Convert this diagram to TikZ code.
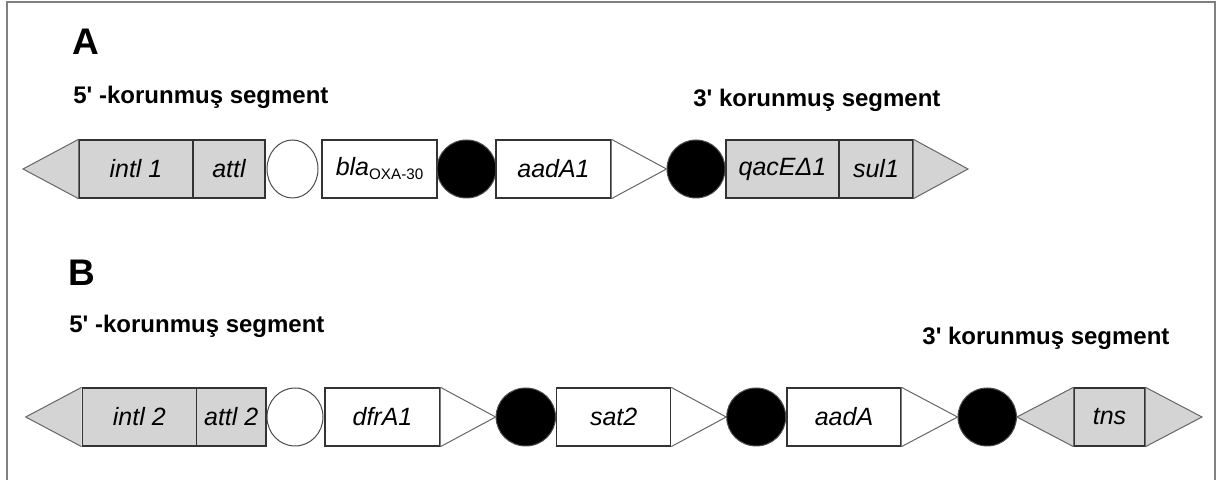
\documentclass[tikz,border=0pt]{standalone}
\usepackage{fontspec}
\setmainfont{Liberation Sans}
\usetikzlibrary{shapes.geometric}

\begin{document}
\begin{tikzpicture}[x=0.5pt,y=-0.5pt,
		frame/.style={draw=black!50,line width=0.75pt},
		headline/.style={anchor=base west,inner sep=0pt,font=\fontsize{18.5}{20}\selectfont\bfseries},
		segment/.style={anchor=base west,inner sep=0pt,font=\fontsize{12}{14}\selectfont\bfseries},
		box/.style={draw=black!80,line width=0.6pt,fill=white,inner sep=0pt,minimum height=29pt,minimum width=#1,font=\fontsize{12.5}{14}\selectfont\itshape},
		grey/.style={fill=black!17},
		site/.style={draw=black!70,line width=0.5pt,ellipse,fill=white,inner sep=0pt,minimum height=29pt,minimum width=#1},
		dot/.style={fill=black},
		pointer/.style={draw=black!60,line width=0.5pt}]
		\useasboundingbox (0,0) rectangle (1217,480);
		\draw[frame] (7,480) -- (7,2) -- (1215,2) -- (1215,480);
		% panel A
		\node[headline] (labA) at (72,55) {A};
		\node[segment] (fiveA) at (73,104) {5\textquotesingle{} -korunmuş segment};
		\node[segment] (threeA) at (693,107) {3\textquotesingle{} korunmuş segment};
		\node[box=57pt,grey] (intlA) at (136,169) {intl 1};
		\node[box=36pt,grey] (attlA) at (229,169) {attl};
		\node[site=25.5pt] (openA) at (292.5,169) {};
		\node[box=57.5pt] (bla) at (379.5,169) {bla\raisebox{-2pt}{\upshape\fontsize{7.6}{9}\selectfont OXA-30}};
		\node[site=29.5pt,dot] (dotA1) at (466.5,169) {};
		\node[box=57.5pt] (aadAa) at (553.5,169) {aadA1};
		\node[site=29pt,dot] (dotA2) at (696,169) {};
		\node[box=56.5pt,grey] (qac) at (782.5,169) {qacEΔ1};
		\node[box=37pt,grey] (sul) at (876,169) {sul1};
		\coordinate (endA1) at (23,169);
		\coordinate (endA2) at (968,169);
		\filldraw[pointer,grey] (intlA.north west) -- (endA1) -- (intlA.south west);
		\filldraw[pointer,fill=white] (aadAa.north east) -- (dotA2.west) -- (aadAa.south east);
		\filldraw[pointer,grey] (sul.north east) -- (endA2) -- (sul.south east);
		% panel B
		\node[headline] (labB) at (68,286) {B};
		\node[segment] (fiveB) at (69,333) {5\textquotesingle{} -korunmuş segment};
		\node[segment] (threeB) at (922,345) {3\textquotesingle{} korunmuş segment};
		\node[box=57.2pt,grey] (intlB) at (139.3,417) {intl 2};
		\node[box=34.8pt,grey] (attlB) at (231.2,417) {attl 2};
		\node[site=28pt] (openB) at (295,417) {};
		\node[box=57.5pt] (dfr) at (382.5,417) {dfrA1};
		\node[site=29.7pt,dot] (dotB1) at (525.8,417) {};
		\node[box=57pt] (sat) at (613.7,417) {sat2};
		\node[site=29.5pt,dot] (dotB2) at (756.2,417) {};
		\node[box=57pt] (aadAb) at (844,417) {aadA};
		\node[site=29.2pt,dot] (dotB3) at (987.2,417) {};
		\node[box=35.5pt,grey] (tns) at (1109.5,417) {tns};
		\coordinate (endB1) at (25.7,417);
		\coordinate (endB2) at (1202,417);
		\filldraw[pointer,grey] (intlB.north west) -- (endB1) -- (intlB.south west);
		\filldraw[pointer,fill=white] (dfr.north east) -- (dotB1.west) -- (dfr.south east);
		\filldraw[pointer,fill=white] (sat.north east) -- (dotB2.west) -- (sat.south east);
		\filldraw[pointer,fill=white] (aadAb.north east) -- (dotB3.west) -- (aadAb.south east);
		\filldraw[pointer,grey] (tns.north west) -- (dotB3.east) -- (tns.south west);
		\filldraw[pointer,grey] (tns.north east) -- (endB2) -- (tns.south east);
\end{tikzpicture}
\end{document}
